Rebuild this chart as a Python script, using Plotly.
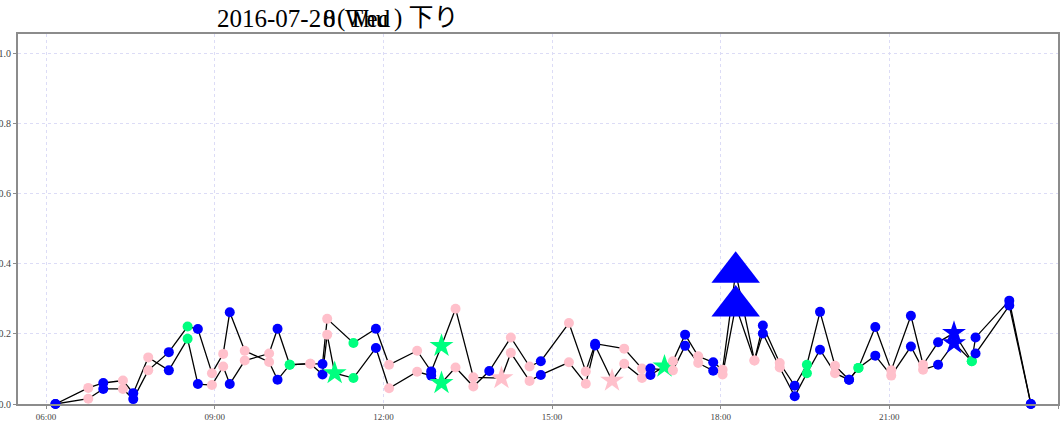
import plotly.graph_objects as go

# ---------------- data ----------------
dates = ["2016-07-20", "2016-07-28"]
weekdays = ["Wed", "Thu"]
direction = "下り"

# day 1 (time of day, value, marker colour class, marker shape class)
times_a = ["06:10", "06:45", "07:01", "07:22", "07:33", "07:49", "08:11", "08:31", "08:42", "08:57",
           "09:09", "09:16", "09:32", "09:58", "10:07", "10:20", "10:42", "10:55", "11:00", "11:28",
           "11:52", "12:06", "12:36", "12:51", "13:02", "13:17", "13:36", "14:06", "14:16", "14:36",
           "14:48", "15:18", "15:36", "15:46", "16:04", "16:17", "16:36", "16:45", "17:00", "17:09",
           "17:22", "17:36", "17:52", "18:02", "18:16", "18:36", "18:45", "19:03", "19:19", "19:32",
           "19:46", "20:02", "20:17", "20:27", "20:45", "21:02", "21:23", "21:36", "21:52", "22:09",
           "22:28", "22:32", "23:08", "23:31"]
values_a = [0.000, 0.046, 0.060, 0.067, 0.031, 0.133, 0.096, 0.186, 0.057, 0.054,
            0.107, 0.057, 0.124, 0.144, 0.215, 0.112, 0.115, 0.114, 0.243, 0.174,
            0.215, 0.112, 0.152, 0.093, 0.166, 0.272, 0.076, 0.074, 0.146, 0.066,
            0.083, 0.119, 0.058, 0.167, 0.067, 0.115, 0.074, 0.083, 0.107, 0.122,
            0.198, 0.136, 0.119, 0.098, 0.376, 0.124, 0.224, 0.117, 0.052, 0.112,
            0.263, 0.109, 0.069, 0.103, 0.220, 0.096, 0.252, 0.112, 0.176, 0.203,
            0.122, 0.190, 0.295, 0.000]
kinds_a = ["b", "p", "b", "p", "b", "p", "b", "g", "b", "p",
           "p", "b", "p", "p", "b", "g", "p", "b", "p", "g",
           "b", "p", "p", "b", "g", "p", "p", "p", "p", "p",
           "b", "p", "p", "b", "p", "p", "p", "b", "g", "p",
           "b", "p", "b", "p", "b", "p", "b", "p", "b", "g",
           "b", "p", "b", "g", "b", "p", "b", "p", "b", "b",
           "g", "b", "b", "b"]
marks_a = ["o", "o", "o", "o", "o", "o", "o", "o", "o", "o",
           "o", "o", "o", "o", "o", "o", "o", "o", "o", "o",
           "o", "o", "o", "o", "*", "o", "o", "*", "o", "o",
           "o", "o", "o", "o", "*", "o", "o", "o", "*", "o",
           "o", "o", "o", "o", "^", "o", "o", "o", "o", "o",
           "o", "o", "o", "o", "o", "o", "o", "o", "o", "*",
           "o", "o", "o", "o"]

# day 2
times_b = ["06:10", "06:45", "07:01", "07:22", "07:33", "07:49", "08:11", "08:31", "08:42", "08:57",
           "09:09", "09:16", "09:32", "09:58", "10:07", "10:20", "10:42", "10:55", "11:00", "11:08",
           "11:28", "11:52", "12:06", "12:36", "12:51", "13:02", "13:17", "13:36", "13:53", "14:16",
           "14:36", "14:48", "15:18", "15:36", "15:46", "16:17", "16:36", "16:45", "17:09", "17:22",
           "17:36", "17:52", "18:02", "18:16", "18:36", "18:45", "19:03", "19:19", "19:32", "19:46",
           "20:02", "20:17", "20:27", "20:45", "21:02", "21:23", "21:36", "21:52", "22:09", "22:28",
           "22:32", "23:08", "23:31"]
values_b = [0.000, 0.015, 0.043, 0.043, 0.014, 0.096, 0.148, 0.221, 0.214, 0.088,
            0.143, 0.262, 0.152, 0.120, 0.069, 0.112, 0.115, 0.084, 0.198, 0.088,
            0.074, 0.160, 0.045, 0.092, 0.081, 0.060, 0.104, 0.050, 0.094, 0.190,
            0.107, 0.122, 0.231, 0.093, 0.172, 0.158, 0.101, 0.101, 0.096, 0.166,
            0.117, 0.095, 0.084, 0.280, 0.124, 0.201, 0.104, 0.022, 0.088, 0.155,
            0.088, 0.069, 0.103, 0.138, 0.081, 0.164, 0.098, 0.112, 0.174, 0.122,
            0.144, 0.281, 0.000]
kinds_b = ["b", "p", "b", "p", "b", "p", "b", "g", "b", "p",
           "p", "b", "p", "p", "b", "g", "p", "b", "p", "g",
           "g", "b", "p", "p", "b", "g", "p", "p", "b", "p",
           "p", "b", "p", "p", "b", "p", "p", "b", "p", "b",
           "p", "b", "p", "b", "p", "b", "p", "b", "g", "b",
           "p", "b", "g", "b", "p", "b", "p", "b", "b", "g",
           "b", "b", "b"]
marks_b = ["o", "o", "o", "o", "o", "o", "o", "o", "o", "o",
           "o", "o", "o", "o", "o", "o", "o", "o", "o", "*",
           "o", "o", "o", "o", "o", "*", "o", "o", "o", "o",
           "o", "o", "o", "o", "o", "o", "o", "o", "o", "o",
           "o", "o", "o", "^", "o", "o", "o", "o", "o", "o",
           "o", "o", "o", "o", "o", "o", "o", "o", "*", "o",
           "o", "o", "o"]

y_ticks = [0.0, 0.2, 0.4, 0.6, 0.8, 1.0]

# ---------------- styles ----------------
COLORS = {"b": "#0000ff", "p": "#ffc0cb", "g": "#00ff7f"}
SYMBOLS = {"o": "circle", "*": "star", "^": "triangle-up"}
SIZES = {"o": 10, "*": 18, "^": 42}
BASE = dates[0]

W, H = 1062, 421
ML, MR, MT, MB = 18, 4, 34, 17
SERIF = "Liberation Serif, Noto Sans CJK JP, serif"


def to_dt(ts):
    return [f"{BASE} {t}:00" for t in ts]


fig = go.Figure()

series = [(times_a, values_a, kinds_a, marks_a), (times_b, values_b, kinds_b, marks_b)]

for t, v, k, m in series:
    fig.add_trace(go.Scatter(x=to_dt(t), y=v, mode="lines",
                             line=dict(color="black", width=1.3),
                             showlegend=False, hoverinfo="skip"))

for t, v, k, m in series:
    fig.add_trace(go.Scatter(
        x=to_dt(t), y=v, mode="markers",
        marker=dict(color=[COLORS[c] for c in k],
                    symbol=[SYMBOLS[s] for s in m],
                    size=[SIZES[s] for s in m],
                    opacity=1,
                    line=dict(width=0)),
        showlegend=False, cliponaxis=False))

# ---------------- title (two overlapping titles) ----------------
prefix = dates[0][:-1]
title_pieces = [
    (prefix, 215, "left"),
    (")" + " " + direction, 392, "left"),
    ("(", 335, "left"),
]
for d, wd in zip(dates, weekdays):
    title_pieces.append((d[-1], 321, "left"))
    title_pieces.append((wd, 368, "center"))

for txt, px, anc in title_pieces:
    fig.add_annotation(text=txt, xref="paper", yref="paper", x=0, y=1,
                       xanchor=anc, yanchor="bottom", xshift=px - ML, yshift=0,
                       showarrow=False, font=dict(family=SERIF, size=25, color="black"))

fig.update_layout(
    width=W, height=H,
    margin=dict(l=ML, r=MR, t=MT, b=MB, autoexpand=False),
    paper_bgcolor="white", plot_bgcolor="white",
    showlegend=False,
)

fig.update_xaxes(
    type="date", automargin=False,
    range=[f"{BASE} 05:30:00", "2016-07-21 00:00:00"],
    tick0=f"{BASE} 06:00:00", dtick=3 * 3600 * 1000,
    tickformat="%H:%M",
    showgrid=True, gridcolor="#dcdcf6", griddash="dot", gridwidth=1,
    showline=True, linecolor="#8c8c8c", linewidth=2, mirror=True,
    ticks="outside", ticklen=3, tickcolor="#8c8c8c",
    tickfont=dict(family=SERIF, size=9, color="#444"),
    zeroline=False,
)
fig.update_yaxes(
    automargin=False,
    range=[0, 1.056],
    tickvals=y_ticks, tickformat=".1f",
    showgrid=True, gridcolor="#dcdcf6", griddash="dot", gridwidth=1,
    showline=True, linecolor="#8c8c8c", linewidth=2, mirror=True,
    ticks="outside", ticklen=3, tickcolor="#8c8c8c",
    tickfont=dict(family=SERIF, size=10, color="#444"),
    zeroline=False,
)

fig.write_html("out.html", config={"displayModeBar": False},
               post_script="document.body.style.margin='0';")
